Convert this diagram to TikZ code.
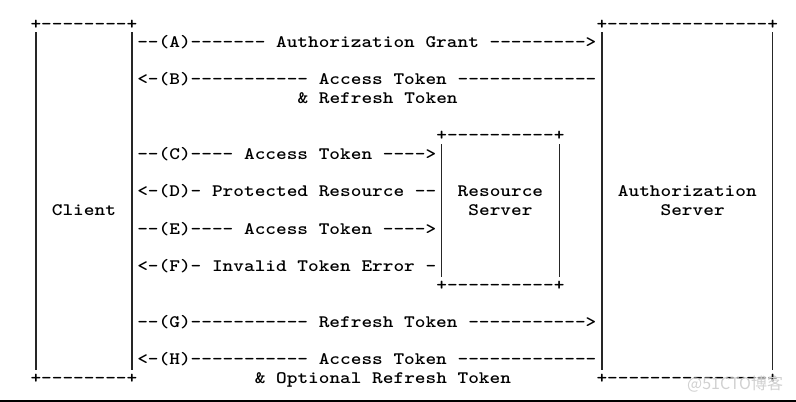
\documentclass[tikz,border=0pt]{standalone}
\usepackage{fontspec}
\usepackage{graphicx}
\newfontfamily\cjkfont{Noto Sans CJK SC}
\newcommand{\asc}[1]{\scalebox{1.162}[1]{\fontsize{17.5}{17.5}\selectfont\ttfamily\bfseries #1}}
\newcommand{\colx}[1]{9.16+10.68*#1}
\newcommand{\rowy}[1]{29+18.65*#1}
\newcommand{\barx}[1]{14.5+10.68*#1}
\begin{document}
\begin{tikzpicture}[x=1pt,y=-1pt,
  txt/.style={anchor=base west, inner sep=0pt, outer sep=0pt},
  vbar/.style={line width=1.3pt, draw=black!85},
  wmark/.style={font=\cjkfont\fontsize{16}{16}\selectfont, text=black!18, inner sep=0pt}]
\useasboundingbox (0,0) rectangle (796,402);
\fill[white] (0,0) rectangle (796,402);
% box corners / borders
\node[txt] (clientTop)  at ({\colx{2}},{\rowy{0}})  {\asc{+--------+}};
\node[txt] (authTop)    at ({\colx{55}},{\rowy{0}}) {\asc{+---------------+}};
\node[txt] (clientBot)  at ({\colx{2}},{\rowy{19}}) {\asc{+--------+}};
\node[txt] (authBot)    at ({\colx{55}},{\rowy{19}}) {\asc{+---------------+}};
\node[txt] (resTop)     at ({\colx{40}},{\rowy{6}}) {\asc{+----------+}};
\node[txt] (resBot)     at ({\colx{40}},{\rowy{14}}) {\asc{+----------+}};
% messages
\node[txt] (msgA) at ({\colx{12}},{\rowy{1}})  {\asc{--(A)------- Authorization Grant --------->}};
\node[txt] (msgB) at ({\colx{12}},{\rowy{3}})  {\asc{<-(B)----------- Access Token -------------}};
\node[txt] (msgB2) at ({\colx{27}},{\rowy{4}}) {\asc{\& Refresh Token}};
\node[txt] (msgC) at ({\colx{12}},{\rowy{7}})  {\asc{--(C)---- Access Token ---->}};
\node[txt] (msgD) at ({\colx{12}},{\rowy{9}})  {\asc{<-(D)- Protected Resource --}};
\node[txt] (msgE) at ({\colx{12}},{\rowy{11}}) {\asc{--(E)---- Access Token ---->}};
\node[txt] (msgF) at ({\colx{12}},{\rowy{13}}) {\asc{<-(F)- Invalid Token Error -}};
\node[txt] (msgG) at ({\colx{12}},{\rowy{16}}) {\asc{--(G)----------- Refresh Token ----------->}};
\node[txt] (msgH) at ({\colx{12}},{\rowy{18}}) {\asc{<-(H)----------- Access Token -------------}};
\node[txt] (msgH2) at ({\colx{23}},{\rowy{19}}) {\asc{\& Optional Refresh Token}};
% box labels
\node[txt] (client) at ({\colx{4}},{\rowy{10}})  {\asc{Client}};
\node[txt] (res1)   at ({\colx{42}},{\rowy{9}})  {\asc{Resource}};
\node[txt] (res2)   at ({\colx{43}},{\rowy{10}}) {\asc{Server}};
\node[txt] (auth1)  at ({\colx{57}},{\rowy{9}})  {\asc{Authorization}};
\node[txt] (auth2)  at ({\colx{61}},{\rowy{10}}) {\asc{Server}};
% vertical bars
\coordinate (cl1) at ({\barx{2}},32);   \coordinate (cl2) at ({\barx{2}},369.5);
\coordinate (cr1) at ({\barx{11}},32);  \coordinate (cr2) at ({\barx{11}},369.5);
\coordinate (al1) at ({\barx{55}},32);  \coordinate (al2) at ({\barx{55}},369.5);
\coordinate (ar1) at ({\barx{71}},32);  \coordinate (ar2) at ({\barx{71}},369.5);
\coordinate (rl1) at ({\barx{40}},144); \coordinate (rl2) at ({\barx{40}},277);
\coordinate (rr1) at ({\barx{51}},144); \coordinate (rr2) at ({\barx{51}},277);
\draw[vbar] (cl1) -- (cl2);
\draw[vbar] (cr1) -- (cr2);
\draw[vbar] (al1) -- (al2);
\draw[vbar] (ar1) -- (ar2);
\draw[vbar] (rl1) -- (rl2);
\draw[vbar] (rr1) -- (rr2);
% bottom rule
\coordinate (b1) at (0,401); \coordinate (b2) at (796,401);
\draw[line width=1.6pt] (b1) -- (b2);
% watermark
\node[wmark, anchor=base west] (wm) at (687,389) {@51CTO博客};
\end{tikzpicture}
\end{document}
